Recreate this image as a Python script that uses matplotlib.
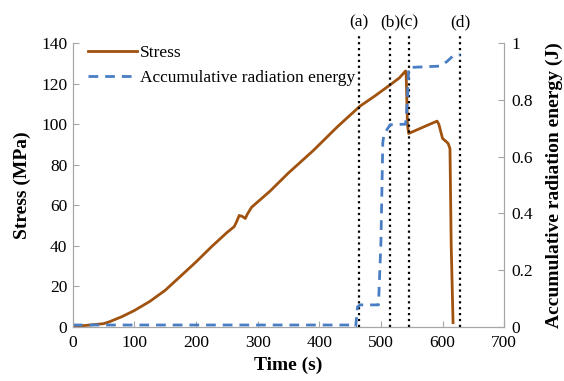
import matplotlib
matplotlib.use('Agg')
import matplotlib.pyplot as plt
import matplotlib.transforms as mtransforms
from matplotlib.ticker import FuncFormatter

plt.rcParams['font.family'] = ['Liberation Serif', 'DejaVu Serif']

# stress curve (s, MPa)
time_stress = [0, 20, 40, 50, 60, 80, 100, 125, 150, 175, 200, 225, 250, 262, 266, 270,
               275, 280, 283, 290, 320, 350, 390, 430, 466, 490, 517, 530, 540, 541,
               543, 545, 560, 575, 591, 594, 600, 604, 609, 612, 614, 617]
stress = [0.5, 0.6, 1.2, 1.5, 2.5, 5, 8, 12.5, 18, 25, 32, 39.5, 46.5, 49.5, 52, 55,
          54.5, 53.5, 55.5, 59, 67, 76, 87, 99, 109, 114, 120, 123, 126.4, 124,
          100, 95.5, 97.5, 99.5, 101.6, 100, 93, 92, 90.6, 88, 40, 2]

# accumulative radiation energy (s, J)
time_energy = [0, 455, 459, 462, 466, 496, 500, 503, 505, 515, 540, 543, 545, 596,
               607, 617, 629]
energy = [0.006, 0.006, 0.0, 0.07, 0.077, 0.077, 0.3, 0.65, 0.68, 0.713, 0.715, 0.8,
          0.915, 0.92, 0.936, 0.956, 0.96]

# marked stages
stage_times = [465, 515, 546, 629]
stage_labels = ['(a)', '(b)', '(c)', '(d)']

stress_color = '#A0520F'
energy_color = '#4A7EC4'
axis_gray = '#A6A6A6'

fig = plt.figure(figsize=(5.64, 3.81), dpi=100)
ax = fig.add_axes([0.129, 0.1425, 0.765, 0.7435])
ax2 = ax.twinx()

l1, = ax.plot(time_stress, stress, color=stress_color, linewidth=2.0, zorder=3)
l2, = ax2.plot(time_energy, energy, color=energy_color, linewidth=2.0,
               linestyle=(0, (3.5, 2.5)), zorder=2)

ax.set_xlim(0, 700)
ax.set_ylim(0, 140)
ax2.set_ylim(0, 1)
ax.set_xticks(range(0, 701, 100))
ax.set_yticks(range(0, 141, 20))
ax2.set_yticks([0, 0.2, 0.4, 0.6, 0.8, 1.0])
ax2.yaxis.set_major_formatter(FuncFormatter(lambda v, p: f'{v:g}'))

for a in (ax, ax2):
    a.spines['top'].set_visible(False)
    for s in ('left', 'right', 'bottom'):
        a.spines[s].set_color(axis_gray)
    a.tick_params(direction='in', length=4, color=axis_gray, labelsize=12.5)
ax.tick_params(axis='x', pad=6)
ax.tick_params(axis='y', pad=4)
ax2.tick_params(axis='y', pad=5)

trans = mtransforms.blended_transform_factory(ax.transData, ax.transAxes)
for t, lab in zip(stage_times, stage_labels):
    ax.plot([t, t], [0, 1.03], transform=trans, color='black', linestyle=':',
            linewidth=1.6, clip_on=False, zorder=4)
    ax.text(t, 1.076, lab, transform=trans, ha='center', va='center', fontsize=12.5)

ax.set_xlabel('Time (s)', fontsize=14, fontweight='bold', labelpad=4)
ax.set_ylabel('Stress (MPa)', fontsize=14, fontweight='bold', labelpad=7)
ax2.set_ylabel('Accumulative radiation energy (J)', fontsize=14, fontweight='bold',
               labelpad=9)

ax.legend([l1, l2], ['Stress', 'Accumulative radiation energy'], loc='upper left',
          bbox_to_anchor=(0.0, 1.05), frameon=False, fontsize=12.5, handlelength=2.8,
          labelspacing=0.5, handletextpad=0.15)

fig.savefig('out.png', dpi=100)
